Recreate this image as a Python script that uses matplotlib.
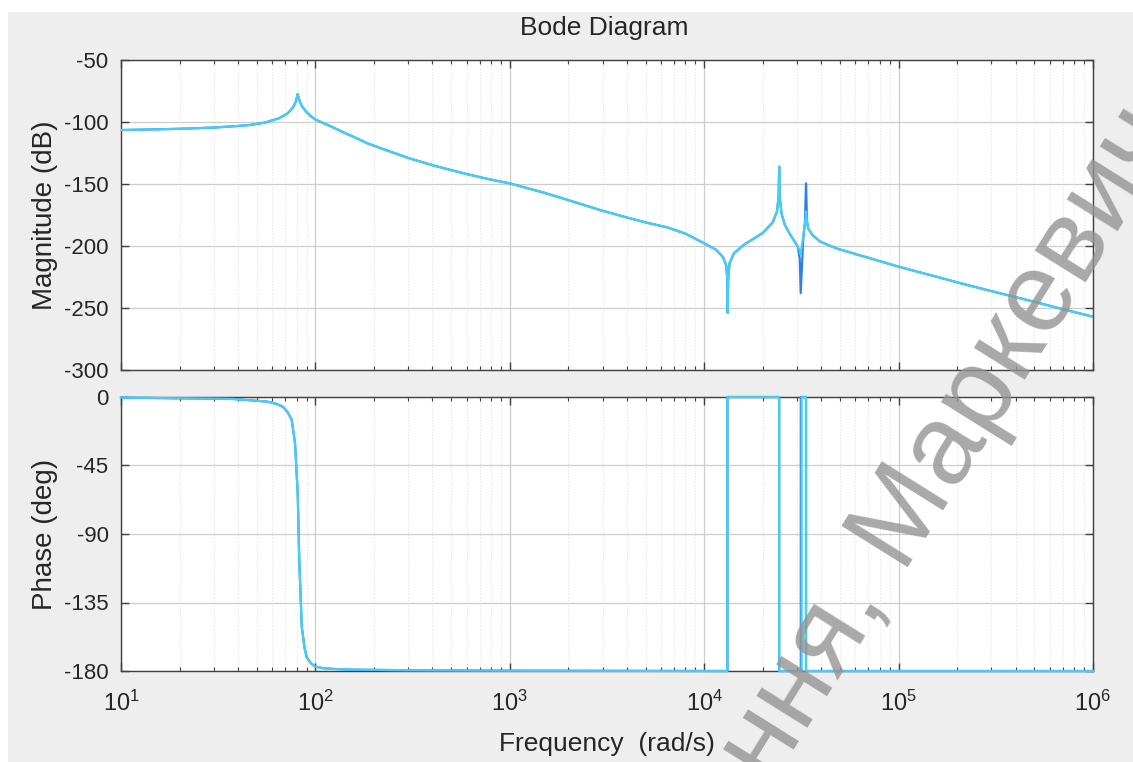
import numpy as np
import matplotlib
matplotlib.use("Agg")
import matplotlib.pyplot as plt
from matplotlib.patches import Rectangle

plt.rcParams["font.family"] = ["Liberation Sans", "DejaVu Sans"]
plt.rcParams["mathtext.fontset"] = "custom"
plt.rcParams["mathtext.rm"] = "Liberation Sans"
plt.rcParams["mathtext.it"] = "Liberation Sans:italic"
plt.rcParams["axes.unicode_minus"] = False

# Magnitude response
mag_freq = [10, 20, 30, 40, 46, 55, 65, 72, 77, 79.5, 81, 82.5, 85, 90, 95,
            100, 120, 140, 160, 184, 220, 300, 403, 600, 800, 1000, 1500,
            2000, 2911, 4000, 5000, 6460, 8000, 9770, 11500, 12500, 13000,
            13150, 13210, 13280, 13500, 14200, 16000, 20000, 22500, 23700,
            24150, 24300, 24450, 25000, 26000, 27500, 30300, 31000, 31360,
            32300, 33000, 33400, 33800, 34300, 36000, 39500, 48000, 60000,
            70000, 100000, 150000, 220000, 330000, 500000, 700000, 1000000]
mag_blue = [-106.5, -105.5, -104.5, -103.2, -102.4, -100.5, -97, -93, -88,
            -83, -77.5, -82, -87, -92, -95.5,
            -98, -103.5, -108.5, -112.5, -117, -121.5, -129, -135, -142,
            -146.5, -149.5, -157, -163, -171, -177, -181, -185, -190, -197,
            -203, -209, -216, -228, -254, -228, -214, -206, -199, -189.5,
            -181, -172, -160, -136, -160, -174, -183, -190, -200.5, -210,
            -238, -195, -180, -149.5, -180, -186, -191, -196.5, -202,
            -206.5, -209.5, -216.7, -224, -231, -238, -245, -251, -257]
mag_cyan = [-106.5, -105.5, -104.5, -103.2, -102.4, -100.5, -97, -93, -88,
            -83, -77.5, -82, -87, -92, -95.5,
            -98, -103.5, -108.5, -112.5, -117, -121.5, -129, -135, -142,
            -146.5, -149.5, -157, -163, -171, -177, -181, -185, -190, -197,
            -203, -209, -216, -228, -254, -228, -214, -206, -199, -189.5,
            -181, -172, -160, -136, -160, -174, -183, -190, -200.5, -204,
            -207, -192, -182, -172, -181, -186, -191, -196.5, -202,
            -206.5, -209.5, -216.7, -224, -231, -238, -245, -251, -257]

# Phase response
ph_freq = [10, 37.7, 56.4, 63, 68.1, 72, 75.5, 78.5, 81.1, 82.6, 85.1, 88,
           90.2, 95, 99.5, 110, 123, 150, 300, 1000, 13170, 13171, 24300,
           24301, 31400, 31401, 33400, 33401, 1000000]
ph_blue = [-0.4, -1.3, -3, -4.5, -6.4, -10, -15, -30, -63, -107, -151, -165,
           -171, -175, -177, -178.2, -178.6, -179.1, -179.5, -179.8, -180, 0,
           0, -180, -180, 0, 0, -180, -180]
ph_cyan_freq = [10, 37.7, 56.4, 63, 68.1, 72, 75.5, 78.5, 81.1, 82.6, 85.1,
                88, 90.2, 95, 99.5, 110, 123, 150, 300, 1000, 13170, 13171,
                24300, 24301, 31700, 31701, 33400, 33401, 1000000]
ph_cyan = [-0.4, -1.3, -3, -4.5, -6.4, -10, -15, -30, -63, -107, -151, -165,
           -171, -175, -177, -178.2, -178.6, -179.1, -179.5, -179.8, -180, 0,
           0, -180, -180, 0, 0, -180, -180]

mag_ticks = [-50, -100, -150, -200, -250, -300]
ph_ticks = [0, -45, -90, -135, -180]

blue = "#2f80e6"
cyan = "#45cdf3"
txt = "#262626"

fig = plt.figure(figsize=(11.33, 7.62), dpi=100, facecolor="white")
fig.patches.append(Rectangle((8 / 1133, 0), 1, 750 / 762, transform=fig.transFigure,
                             facecolor="#eeeeee", edgecolor="none", zorder=-10))

ax1 = fig.add_axes([121 / 1133, 1 - 370 / 762, 972 / 1133, 310 / 762], zorder=1)
ax2 = fig.add_axes([121 / 1133, 1 - 671 / 762, 972 / 1133, 274 / 762], zorder=1)

ax1.semilogx(mag_freq, mag_blue, color=blue, lw=1.6, zorder=3)
ax1.semilogx(mag_freq, mag_cyan, color=cyan, lw=1.6, zorder=3)
ax2.semilogx(ph_freq, ph_blue, color=blue, lw=1.6, zorder=3, clip_on=False)
ax2.semilogx(ph_cyan_freq, ph_cyan, color=cyan, lw=1.6, zorder=3, clip_on=False)

for ax in (ax1, ax2):
    ax.set_xlim(10, 1e6)
    ax.set_facecolor("white")
    ax.grid(which="major", color="#cdcdcd", lw=0.9)
    ax.grid(which="minor", axis="x", color="#e3e3e3", lw=0.8, linestyle=":")
    ax.tick_params(which="both", direction="in", top=True, right=True,
                   colors="#404040", labelcolor=txt, labelsize=16)
    ax.tick_params(which="major", length=6, width=1)
    ax.tick_params(axis="y", pad=9)
    ax.tick_params(axis="x", pad=14, labelsize=17)
    ax.tick_params(which="minor", length=3, width=0.8)
    for s in ax.spines.values():
        s.set_color("#404040")
        s.set_linewidth(1.0)

ax1.set_ylim(-300, -50)
ax1.set_yticks(mag_ticks)
ax1.tick_params(labelbottom=False)
ax1.set_ylabel("Magnitude (dB)", fontsize=20, color=txt, labelpad=4)

ax2.set_ylim(-180, 0)
ax2.set_yticks(ph_ticks)
ax2.set_ylabel("Phase (deg)", fontsize=20, color=txt, labelpad=4)
ax2.set_xlabel("Frequency  (rad/s)", fontsize=19, color=txt, labelpad=12)

fig.text(604 / 1133, 1 - 28 / 762, "Bode Diagram", ha="center", va="center",
         fontsize=19, color=txt)

# watermark
fig.text(0.839, 0.416, "ння, Маркевич", rotation=58, ha="center", va="center",
         fontsize=82, color="#939393", alpha=0.8, zorder=10)

fig.savefig("out.png", dpi=100, facecolor=fig.get_facecolor())
